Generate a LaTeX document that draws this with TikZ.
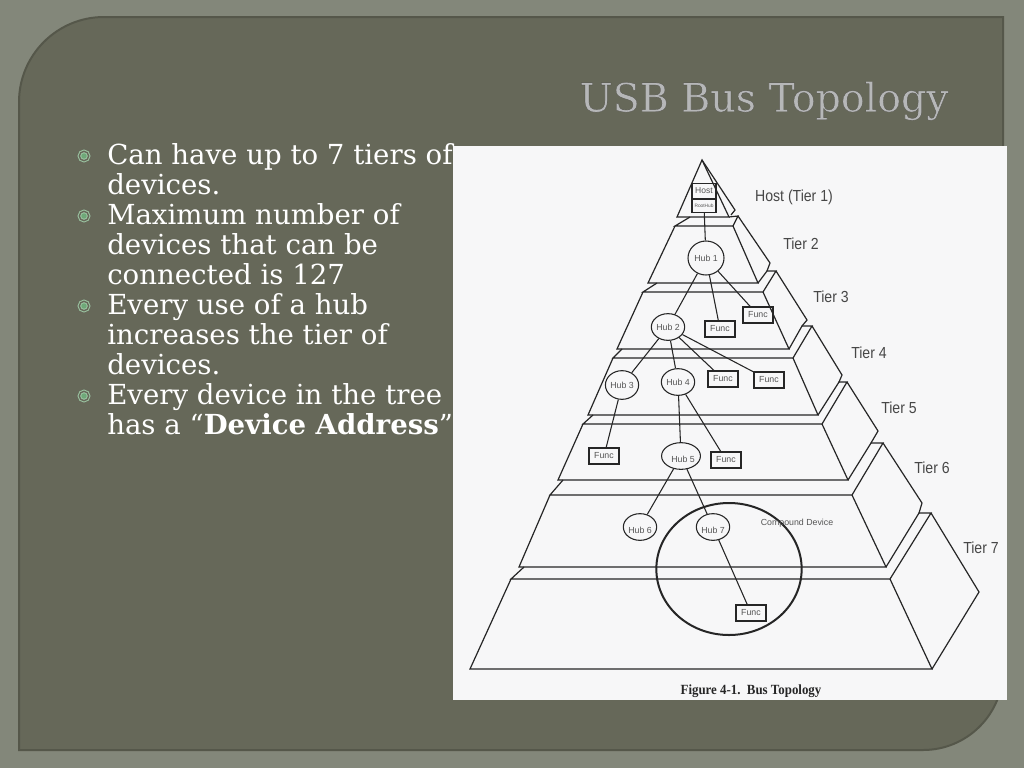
\documentclass[tikz,border=0pt]{standalone}
\usepackage{fontspec}
\setmainfont{DejaVu Serif}
\newfontfamily\labelfont{Liberation Sans}
\newfontfamily\capfont{Liberation Serif}
\newfontfamily\titlefont[FakeBold=0.5]{DejaVu Serif}
\usetikzlibrary{shapes.geometric}

\definecolor{mattecol}{HTML}{83877A}
\definecolor{panelcol}{HTML}{666859}
\definecolor{edgecol}{HTML}{55574A}
\definecolor{sheetcol}{HTML}{F7F7F8}
\definecolor{titlecol}{HTML}{B6B7B8}
\definecolor{dotcol}{HTML}{6EA878}
\definecolor{inkcol}{HTML}{262626}
\definecolor{greycol}{HTML}{555555}

\begin{document}
\begin{tikzpicture}[
  x=0.75pt, y=-0.75pt,
  title/.style={font=\titlefont\fontsize{29.6}{33}\selectfont, text=titlecol, inner sep=0pt},
  bullet/.style={circle, draw=dotcol!70!white, double=panelcol, double distance=1pt, fill=dotcol, minimum size=7pt, inner sep=0pt, line width=0.8pt},
  para/.style={font=\fontsize{20.7}{22.5}\selectfont, text=white, anchor=north west, inner sep=0pt, align=left},
  wall/.style={draw=inkcol, line width=0.9pt, line join=miter},
  hub/.style={ellipse, draw=inkcol, line width=0.8pt, minimum width=25pt, minimum height=20pt, inner sep=0pt, text=greycol, font=\labelfont\fontsize{6.6}{8}\selectfont},
  func/.style={rectangle, draw=inkcol, line width=0.8pt, minimum width=22.5pt, minimum height=12pt, inner sep=0pt, text=greycol, font=\labelfont\fontsize{6.6}{8}\selectfont},
  tier/.style={text=inkcol!85, inner sep=0pt, font=\labelfont\fontsize{12}{13}\selectfont, xscale=0.88},
  link/.style={draw=inkcol, line width=0.8pt},
]
\useasboundingbox (0,0) rectangle (1024,768);

% --- slide ---
\fill[mattecol] (0,0) rectangle (1024,768);
\draw[edgecol, line width=1.5pt, fill=panelcol] (19,750) -- (19,102) arc[start angle=180, end angle=90, radius=63.75pt] -- (1003,17) -- (1003,670) arc[start angle=0, end angle=-90, radius=60pt] -- cycle;

\node[title] (head) at (764,101) {\special{pdf:code 0.27 0.27 0.25 RG}USB Bus Topology};

\node[bullet] (b1) at (84,156) {};
\node[bullet] (b2) at (84,216) {};
\node[bullet] (b3) at (84,306) {};
\node[bullet] (b4) at (84,396) {};

\node[para] (p1) at (107,143) {Can have up to 7 tiers of\\devices.};
\node[para] (p2) at (107,203) {Maximum number of\\devices that can be\\connected is 127};
\node[para] (p3) at (107,293) {Every use of a hub\\increases the tier of\\devices.};
\node[para] (p4) at (107,383) {Every device in the tree\\has a “\textbf{Device Address}”};

% --- figure sheet ---
\fill[sheetcol] (453,146) rectangle (1007,700);

% --- pyramid ---
\draw[wall] (677,217) -- (702,160) -- (729,217) -- cycle;
\draw[wall] (702,160) -- (735,210) -- (731,215);
\draw[wall] (690,217) -- (675,226) -- (733,226) -- (738,216) -- (729,217);

\draw[wall] (675,226) -- (648,283) -- (758,283) -- (733,226);
\draw[wall] (738,216) -- (770,263) -- (767,271);
\draw[wall] (758,283) -- (767,271) -- (776,271) -- (763,292) -- (643,292) -- (657,283);

\draw[wall] (643,292) -- (617,349) -- (789,349) -- (763,292);
\draw[wall] (776,271) -- (807,320) -- (802,326);
\draw[wall] (789,349) -- (802,326) -- (812,326) -- (793,358) -- (613,358) -- (622,349);

\draw[wall] (613,358) -- (588,415) -- (818,415) -- (793,358);
\draw[wall] (812,326) -- (842,375) -- (839,382);
\draw[wall] (818,415) -- (839,382) -- (847,382) -- (822,424) -- (583,424) -- (593,415);

\draw[wall] (583,424) -- (558,480) -- (848,480) -- (822,424);
\draw[wall] (847,382) -- (878,431) -- (871,443);
\draw[wall] (848,480) -- (871,443) -- (883,443) -- (852,495) -- (550,495) -- (563,480);

\draw[wall] (550,495) -- (519,567) -- (886,567) -- (852,495);
\draw[wall] (883,443) -- (922,503) -- (919,513);
\draw[wall] (886,567) -- (919,513) -- (931,513) -- (890,579) -- (511,579) -- (524,567);

\draw[wall] (511,579) -- (470,669) -- (932,669) -- (890,579);
\draw[wall] (931,513) -- (979,592) -- (932,669);

% --- devices ---
\node[func, minimum width=18pt, minimum height=11.5pt, font=\labelfont\fontsize{6.4}{8}\selectfont] (host) at (704,191) {Host};
\node[func, minimum width=18pt, minimum height=10pt, font=\labelfont\fontsize{3.6}{4}\selectfont] (root) at (704,206) {RootHub};

\node[hub, minimum width=27pt, minimum height=25.5pt] (hub1) at (706,258) {Hub 1};
\node[hub] (hub2) at (668,327) {Hub 2};
\node[hub, minimum width=23.5pt, minimum height=21.5pt] (hub3) at (622,385) {Hub 3};
\node[hub] (hub4) at (678,382) {Hub 4};
\node[hub] (hub5) at (681,456) {\raisebox{-5pt}[0pt][0pt]{\hspace{3pt}Hub 5}};
\node[hub] (hub6) at (640,527) {\raisebox{-5pt}[0pt][0pt]{Hub 6}};
\node[hub] (hub7) at (713,527) {\raisebox{-5pt}[0pt][0pt]{Hub 7}};

\node[func] (func1) at (720,329) {Func};
\node[func] (func2) at (758,315) {Func};
\node[func] (func3) at (723,379) {Func};
\node[func] (func4) at (769,380) {Func};
\node[func] (func5) at (604,456) {Func};
\node[func] (func6) at (726,460) {Func};
\node[func] (func7) at (751,613) {Func};

\node[ellipse, draw=inkcol, line width=1.5pt, minimum width=109pt, minimum height=99pt, inner sep=0pt] (compound) at (729,569) {};
\node[inner sep=0pt, text=greycol, font=\labelfont\fontsize{6.6}{8}\selectfont] (cdev) at (797,523) {Compound Device};

\draw[link] (root) -- (hub1);
\draw[link] (hub1) -- (hub2);
\draw[link] (hub1) -- (func1);
\draw[link] (hub1) -- (func2);
\draw[link] (hub2) -- (hub3);
\draw[link] (hub2) -- (hub4);
\draw[link] (hub2) -- (func3);
\draw[link] (hub2) -- (func4);
\draw[link] (hub3) -- (func5);
\draw[link] (hub4) -- (hub5);
\draw[link] (hub4) -- (func6);
\draw[link] (hub5) -- (hub6);
\draw[link] (hub5) -- (hub7);
\draw[link] (hub7) -- (func7);

% --- tier labels ---
\node[tier] (t1) at (794,197) {Host (Tier 1)};
\node[tier] (t2) at (801,244) {Tier 2};
\node[tier] (t3) at (831,297) {Tier 3};
\node[tier] (t4) at (869,353) {Tier 4};
\node[tier] (t5) at (899,408) {Tier 5};
\node[tier] (t6) at (932,468) {Tier 6};
\node[tier] (t7) at (981,548) {Tier 7};

\node[inner sep=0pt, text=inkcol, xscale=0.92, font=\capfont\bfseries\fontsize{10.5}{12}\selectfont] (caption) at (751,691) {Figure 4-1.\ \ Bus Topology};
\end{tikzpicture}
\end{document}
